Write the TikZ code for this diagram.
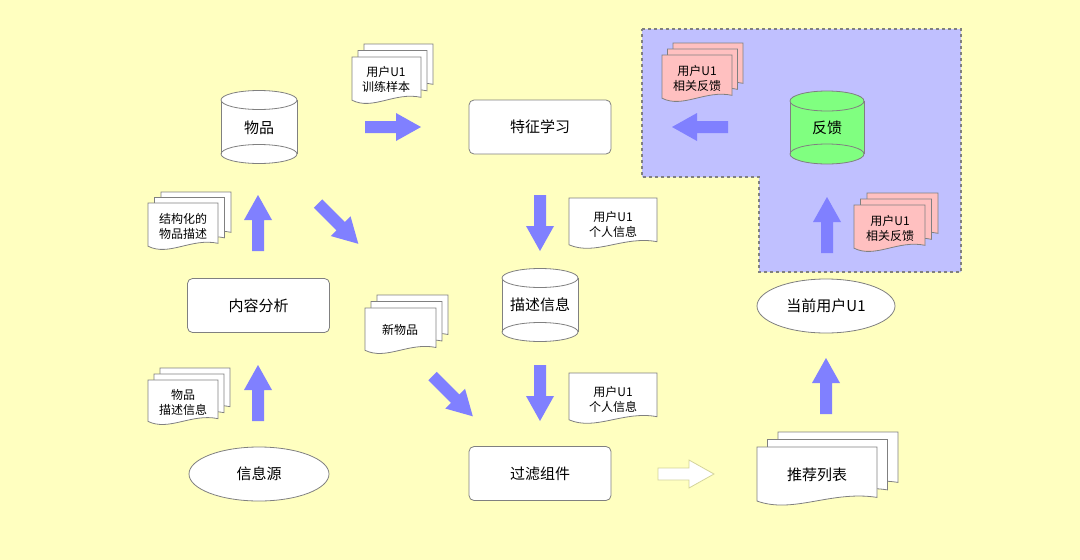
\documentclass[tikz,border=0pt]{standalone}
\usepackage{fontspec}
\setmainfont{Noto Sans CJK SC}
\usetikzlibrary{shapes.geometric}
\definecolor{bgy}{HTML}{FFFFC0}
\definecolor{regp}{HTML}{C0C0FF}
\definecolor{arrb}{HTML}{8080FF}
\definecolor{olgray}{HTML}{808080}
\definecolor{pinkf}{HTML}{FFC0C0}
\definecolor{greenf}{HTML}{80FF80}
\definecolor{khaki}{HTML}{D4D49A}
\tikzset{
  olin/.style={draw=olgray, line width=0.8pt},
  boxn/.style={olin, fill=white, rounded corners=5pt, minimum width=142pt, minimum height=54pt, inner sep=0pt, font=\fontsize{15pt}{18pt}\selectfont},
  elln/.style={olin, fill=white, ellipse, minimum width=140pt, minimum height=54pt, inner sep=0pt, font=\fontsize{15pt}{18pt}\selectfont},
  bigt/.style={inner sep=0pt, font=\fontsize{15pt}{18pt}\selectfont},
  smallt/.style={inner sep=0pt, align=center, font=\fontsize{12pt}{15pt}\selectfont},
  fatb/.style={fill=arrb, draw=none},
  fatw/.style={fill=white, draw=khaki, line width=0.8pt},
}
% document shape: left, top, width, height, fill
\newcommand{\docshp}[5]{%
  \pgfmathsetmacro\docR{#1+#3}%
  \pgfmathsetmacro\docYl{#2+0.9*#4}%
  \pgfmathsetmacro\docYr{#2+0.84*#4}%
  \pgfmathsetmacro\docAx{#1+0.3*#3}%
  \pgfmathsetmacro\docAy{#2+1.12*#4}%
  \pgfmathsetmacro\docBx{#1+0.62*#3}%
  \pgfmathsetmacro\docBy{#2+0.72*#4}%
  \filldraw[olin, fill=#5] (#1,#2) -- (\docR,#2) -- (\docR,\docYr)
     .. controls (\docBx,\docBy) and (\docAx,\docAy) .. (#1,\docYl) -- cycle;}
% stack of three: left, top, width, height, dx, dy, fill
\newcommand{\docstk}[7]{%
  \docshp{#1+2*#5}{#2-2*#6}{#3}{#4}{#7}%
  \docshp{#1+#5}{#2-#6}{#3}{#4}{#7}%
  \docshp{#1}{#2}{#3}{#4}{#7}}
% cylinder: cx, top y, bottom y, rx, ry, fill
\newcommand{\cylshp}[6]{%
  \fill[#6] (#1-#4,#2) rectangle (#1+#4,#3);
  \filldraw[olin, fill=#6] (#1,#3) ellipse [x radius=#4pt, y radius=#5pt];
  \draw[olin] (#1-#4,#2) -- (#1-#4,#3) (#1+#4,#2) -- (#1+#4,#3);
  \filldraw[olin, fill=#6] (#1,#2) ellipse [x radius=#4pt, y radius=#5pt];}
% fat arrow: x, y (tail centre), angle, length, style
\newcommand{\fatarr}[5]{%
  \begin{scope}[shift={(#1,#2)}, rotate=#3]
    \filldraw[#5] (0,-6) -- (#4-25,-6) -- (#4-25,-14) -- (#4,0) -- (#4-25,14) -- (#4-25,6) -- (0,6) -- cycle;
  \end{scope}}
\begin{document}
\begin{tikzpicture}[x=1pt, y=-1pt]
\useasboundingbox (0,0) rectangle (1080,560);
\fill[bgy] (0,0) rectangle (1080,560);
% feedback region
\filldraw[fill=regp, draw=olgray, dashed, line width=1.3pt]
  (642,29) -- (961,29) -- (961,272) -- (759,272) -- (759,177) -- (642,177) -- cycle;

% cylinders
\cylshp{259}{100}{154}{38}{9.5}{white}
\node[bigt] (wupin) at (259,128) {物品};
\cylshp{540}{278}{332}{38}{9.5}{white}
\node[bigt] (miaoshu) at (540,305) {描述信息};
\cylshp{827}{101}{154}{37}{10}{greenf}
\node[bigt] (fankui) at (827,128) {反馈};

% boxes
\node[boxn] (tezheng) at (540,127) {特征学习};
\node[boxn] (neirong) at (258.5,305.5) {内容分析};
\node[boxn] (guolv) at (540,473.5) {过滤组件};
\node[elln] (xinxi) at (259,474) {信息源};
\node[elln, minimum width=138pt] (yonghu) at (826,306) {当前用户U1};

% documents
\docstk{352}{57}{69}{48}{6}{6.5}{white}
\node[smallt] (xunlian) at (386,79) {用户U1\\训练样本};
\docstk{148}{203}{70}{48}{6.5}{5.5}{white}
\node[smallt] (jiegou) at (183,226) {结构化的\\物品描述};
\docstk{365}{308}{71}{47}{6}{6.5}{white}
\node[smallt] (xinwu) at (400,330) {新物品};
\docstk{148}{380}{70}{46}{6}{6}{white}
\node[smallt] (wpms) at (183,402) {物品\\描述信息};
\docstk{757}{447}{120}{60}{10.5}{7.5}{white}
\node[bigt] (tuijian) at (817,475) {推荐列表};
\docstk{662}{55}{70}{48}{5.5}{6}{pinkf}
\node[smallt] (fk1) at (697,78) {用户U1\\相关反馈};
\docstk{854}{205}{71}{48}{6.5}{6}{pinkf}
\node[smallt] (fk2) at (890,228) {用户U1\\相关反馈};
\docshp{569}{198}{88}{52}{white}
\node[smallt] (grxx1) at (613,224) {用户U1\\个人信息};
\docshp{569}{373}{88}{52}{white}
\node[smallt] (grxx2) at (613,399) {用户U1\\个人信息};

% fat arrows
\fatarr{365}{127}{0}{56}{fatb}
\fatarr{540}{195}{-90}{56}{fatb}
\fatarr{540}{365}{-90}{56}{fatb}
\fatarr{258}{251}{90}{56}{fatb}
\fatarr{258}{421}{90}{56}{fatb}
\fatarr{826}{414}{90}{56}{fatb}
\fatarr{827}{253}{90}{56}{fatb}
\fatarr{728}{127}{180}{56}{fatb}
\fatarr{318}{203.5}{-45}{57}{fatb}
\fatarr{432.5}{376}{-45}{57}{fatb}
\fatarr{658}{474}{0}{56}{fatw}
\end{tikzpicture}
\end{document}
